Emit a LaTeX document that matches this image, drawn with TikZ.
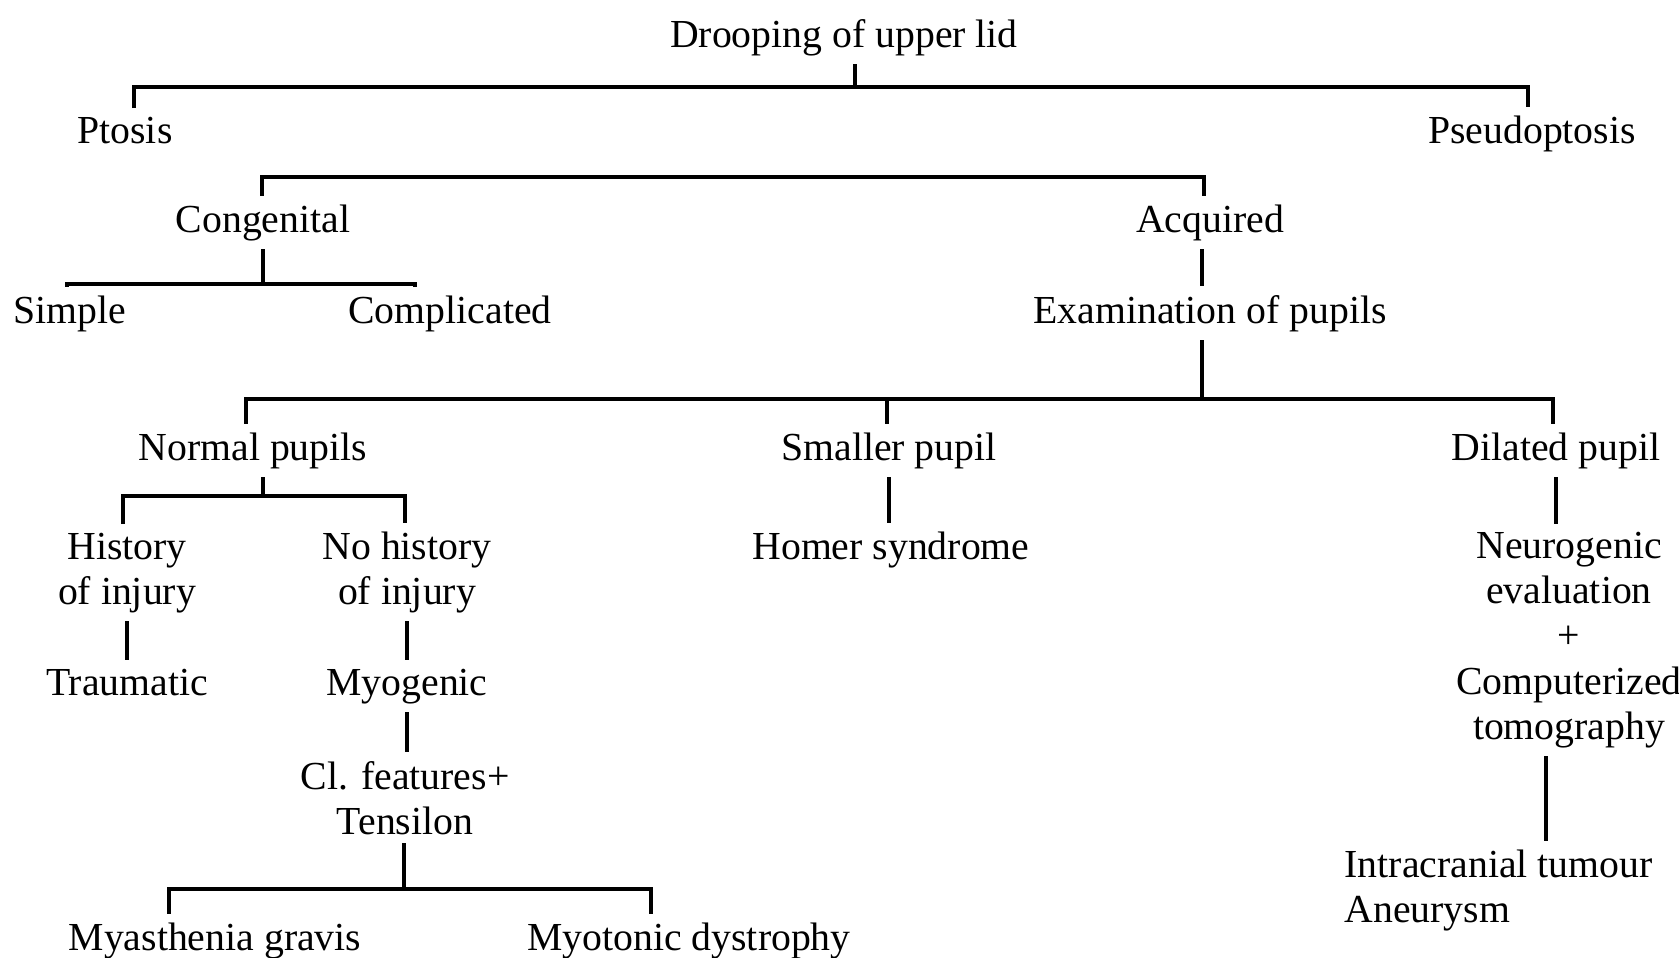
\documentclass[tikz,border=0pt]{standalone}
\usepackage{fontspec}
\setmainfont{Liberation Serif}
\begin{document}
\begin{tikzpicture}[x=0.01cm, y=-0.01cm, line width=0.9pt,
    box/.style={anchor=base, inner sep=2pt, align=center, font=\fontsize{11.3}{12.8}\selectfont}]
    \useasboundingbox (0,0) rectangle (1679,957);
    % Nodes of the tree (multi-line ones sit on their last line)
    \node[box] (droop) at (844,47) {Drooping of upper lid};
    \node[box] (ptosis) at (125,143) {Ptosis};
    \node[box] (pseudo) at (1532,143) {Pseudoptosis};
    \node[box] (cong) at (263,232) {Congenital};
    \node[box] (acq) at (1210,232) {Acquired};
    \node[box] (simple) at (70,323) {Simple};
    \node[box] (compl) at (450,323) {Complicated};
    \node[box] (exam) at (1210,323) {Examination of pupils};
    \node[box] (normal) at (253,460) {Normal pupils};
    \node[box] (smaller) at (889,460) {Smaller pupil};
    \node[box] (dilated) at (1556,460) {Dilated pupil};
    \node[box] (hist) at (127,604) {History\\of injury};
    \node[box] (nohist) at (407,604) {No history\\of injury};
    \node[box] (homer) at (891,559) {Homer syndrome};
    \node[box] (neuro) at (1569,739) {Neurogenic\\evaluation\\+\\Computerized\\tomography};
    \node[box] (traum) at (127,695) {Traumatic};
    \node[box] (myo) at (407,695) {Myogenic};
    \node[box] (clin) at (405,834) {Cl. features+\\Tensilon};
    \node[box] (myas) at (215,950) {Myasthenia gravis};
    \node[box] (myot) at (689,950) {Myotonic dystrophy};
    \node[box, anchor=base west, align=left] (intra) at (1336,922) {Intracranial tumour\\Aneurysm};
    % Junctions on the bars
    \coordinate (t0) at (855,87);
    \coordinate (t1) at (134,87);
    \coordinate (t2) at (1528,87);
    \coordinate (a1) at (262,177);
    \coordinate (a2) at (1204,177);
    \coordinate (c0) at (263,284);
    \coordinate (c1) at (67,284);
    \coordinate (c2) at (415,284);
    \coordinate (e0) at (1202,399);
    \coordinate (e1) at (246,399);
    \coordinate (e2) at (887,399);
    \coordinate (e3) at (1553,399);
    \coordinate (n0) at (263,496);
    \coordinate (n1) at (123,496);
    \coordinate (n2) at (405,496);
    \coordinate (m0) at (404,889);
    \coordinate (m1) at (169,889);
    \coordinate (m2) at (651,889);
    \coordinate (k) at (1546,800);
    % Drooping of upper lid
    \draw (droop.south -| t0) -- (t0);
    \draw (ptosis.north -| t1) -- (t1) -- (t2) -- (pseudo.north -| t2);
    % Congenital and acquired
    \draw (cong.north -| a1) -- (a1) -- (a2) -- (acq.north -| a2);
    \draw (cong.south -| c0) -- (c0);
    \draw (simple.north -| c1) -- (c1) -- (c2) -- (compl.north -| c2);
    \draw (acq.south -| e0) -- (exam.north -| e0);
    % Pupils
    \draw (exam.south -| e0) -- (e0);
    \draw (normal.north -| e1) -- (e1) -- (e3) -- (dilated.north -| e3);
    \draw (e2) -- (smaller.north -| e2);
    \draw (normal.south -| n0) -- (n0);
    \draw (hist.north -| n1) -- (n1) -- (n2) -- (nohist.north -| n2);
    \draw (hist.south) -- (traum.north -| hist.south);
    \draw (nohist.south) -- (myo.north -| nohist.south);
    \draw (myo.south) -- (clin.north -| myo.south);
    \draw (clin.south -| m0) -- (m0);
    \draw (myas.north -| m1) -- (m1) -- (m2) -- (myot.north -| m2);
    \draw (smaller.south) -- (homer.north -| smaller.south);
    \draw (dilated.south) -- (neuro.north -| dilated.south);
    \draw (neuro.south -| k) -- (intra.north -| k);
\end{tikzpicture}
\end{document}
